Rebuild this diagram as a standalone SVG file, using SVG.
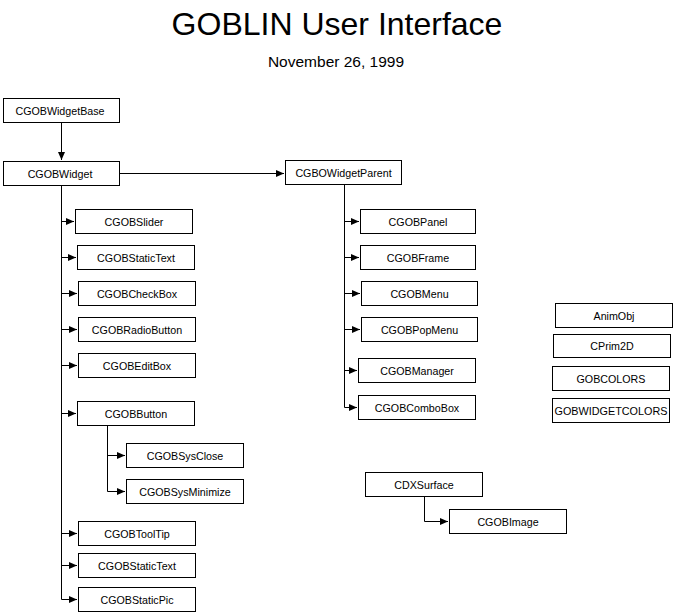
<svg xmlns="http://www.w3.org/2000/svg" width="674" height="613" viewBox="0 0 674 613">
<style>
.b{fill:#fff;stroke:#000;stroke-width:1}
.t{font-family:"Liberation Sans",Arial,sans-serif;font-size:10.7px;text-anchor:middle;fill:#000}
.c{fill:none;stroke:#000;stroke-width:1}
</style>
<defs>
<marker id="a" markerUnits="userSpaceOnUse" markerWidth="9" markerHeight="8" refX="8" refY="3.5" orient="auto">
<path d="M0,0 L8,3.5 L0,7 z" fill="#000"/>
</marker>
</defs>
<rect width="674" height="613" fill="#fff"/>
<text x="337" y="35" style="font-family:'Liberation Sans',Arial,sans-serif;font-size:32px;text-anchor:middle">GOBLIN User Interface</text>
<text x="336" y="67" style="font-family:'Liberation Sans',Arial,sans-serif;font-size:15.5px;text-anchor:middle">November 26, 1999</text>
<g id="connectors">
<path class="c" d="M61.5,122 V160" marker-end="url(#a)"/>
<path class="c" d="M119,173.5 H284" marker-end="url(#a)"/>
<path class="c" d="M61.5,185 V599.5"/>
<path class="c" d="M61.5,221.5 H74" marker-end="url(#a)"/>
<path class="c" d="M61.5,257.5 H76" marker-end="url(#a)"/>
<path class="c" d="M61.5,293.5 H77" marker-end="url(#a)"/>
<path class="c" d="M61.5,329.5 H77" marker-end="url(#a)"/>
<path class="c" d="M61.5,365.5 H77" marker-end="url(#a)"/>
<path class="c" d="M61.5,413.5 H76" marker-end="url(#a)"/>
<path class="c" d="M61.5,533.5 H77" marker-end="url(#a)"/>
<path class="c" d="M61.5,565.5 H77" marker-end="url(#a)"/>
<path class="c" d="M61.5,599.5 H77" marker-end="url(#a)"/>
<path class="c" d="M107.5,425 V491.5"/>
<path class="c" d="M107.5,455.5 H125" marker-end="url(#a)"/>
<path class="c" d="M107.5,491.5 H125" marker-end="url(#a)"/>
<path class="c" d="M344.5,184 V407.5"/>
<path class="c" d="M344.5,221.5 H359" marker-end="url(#a)"/>
<path class="c" d="M344.5,257.5 H359" marker-end="url(#a)"/>
<path class="c" d="M344.5,293.5 H360" marker-end="url(#a)"/>
<path class="c" d="M344.5,329.5 H360" marker-end="url(#a)"/>
<path class="c" d="M344.5,370.5 H357" marker-end="url(#a)"/>
<path class="c" d="M344.5,407.5 H357" marker-end="url(#a)"/>
<path class="c" d="M424.5,496 V521.5 H448" marker-end="url(#a)"/>
</g>
<g id="n_widgetbase"><rect class="b" x="3.5" y="98.5" width="116" height="24"/><text class="t" x="60" y="114.5">CGOBWidgetBase</text></g>
<g id="n_widget"><rect class="b" x="3.5" y="161.5" width="116" height="24"/><text class="t" x="60" y="177.5">CGOBWidget</text></g>
<g id="n_widgetparent"><rect class="b" x="285.5" y="160.5" width="116" height="24"/><text class="t" x="343.5" y="176.5">CGBOWidgetParent</text></g>
<g id="n_slider"><rect class="b" x="75.5" y="209.5" width="117" height="24"/><text class="t" x="134" y="225.5">CGOBSlider</text></g>
<g id="n_statictext"><rect class="b" x="77.5" y="245.5" width="117" height="24"/><text class="t" x="136" y="261.5">CGOBStaticText</text></g>
<g id="n_checkbox"><rect class="b" x="78.5" y="281.5" width="117" height="24"/><text class="t" x="137" y="297.5">CGOBCheckBox</text></g>
<g id="n_radiobutton"><rect class="b" x="78.5" y="317.5" width="117" height="24"/><text class="t" x="137" y="333.5">CGOBRadioButton</text></g>
<g id="n_editbox"><rect class="b" x="78.5" y="353.5" width="117" height="24"/><text class="t" x="137" y="369.5">CGOBEditBox</text></g>
<g id="n_button"><rect class="b" x="77.5" y="401.5" width="117" height="24"/><text class="t" x="136" y="417.5">CGOBButton</text></g>
<g id="n_sysclose"><rect class="b" x="126.5" y="443.5" width="117" height="24"/><text class="t" x="185" y="459.5">CGOBSysClose</text></g>
<g id="n_sysminimize"><rect class="b" x="126.5" y="479.5" width="117" height="24"/><text class="t" x="185" y="495.5">CGOBSysMinimize</text></g>
<g id="n_tooltip"><rect class="b" x="78.5" y="521.5" width="117" height="24"/><text class="t" x="137" y="537.5">CGOBToolTip</text></g>
<g id="n_statictext2"><rect class="b" x="78.5" y="553.5" width="117" height="24"/><text class="t" x="137" y="569.5">CGOBStaticText</text></g>
<g id="n_staticpic"><rect class="b" x="78.5" y="587.5" width="117" height="24"/><text class="t" x="137" y="603.5">CGOBStaticPic</text></g>
<g id="n_panel"><rect class="b" x="360.5" y="209.5" width="115" height="24"/><text class="t" x="418" y="225.5">CGOBPanel</text></g>
<g id="n_frame"><rect class="b" x="360.5" y="245.5" width="115" height="24"/><text class="t" x="418" y="261.5">CGOBFrame</text></g>
<g id="n_menu"><rect class="b" x="361.5" y="281.5" width="116" height="24"/><text class="t" x="419.5" y="297.5">CGOBMenu</text></g>
<g id="n_popmenu"><rect class="b" x="361.5" y="317.5" width="116" height="24"/><text class="t" x="419.5" y="333.5">CGOBPopMenu</text></g>
<g id="n_manager"><rect class="b" x="358.5" y="358.5" width="117" height="24"/><text class="t" x="417" y="374.5">CGOBManager</text></g>
<g id="n_combobox"><rect class="b" x="358.5" y="395.5" width="117" height="24"/><text class="t" x="417" y="411.5">CGOBComboBox</text></g>
<g id="n_animobj"><rect class="b" x="555.5" y="303.5" width="117" height="24"/><text class="t" x="614" y="319.5">AnimObj</text></g>
<g id="n_cprim2d"><rect class="b" x="553.5" y="334.5" width="117" height="23"/><text class="t" x="612" y="350">CPrim2D</text></g>
<g id="n_gobcolors"><rect class="b" x="552.5" y="366.5" width="117" height="24"/><text class="t" x="611" y="382.5">GOBCOLORS</text></g>
<g id="n_gobwidgetcolors"><rect class="b" x="552.5" y="398.5" width="117" height="24"/><text class="t" x="611" y="414.5" textLength="113" lengthAdjust="spacingAndGlyphs">GOBWIDGETCOLORS</text></g>
<g id="n_cdxsurface"><rect class="b" x="365.5" y="472.5" width="117" height="24"/><text class="t" x="424" y="488.5">CDXSurface</text></g>
<g id="n_cgobimage"><rect class="b" x="449.5" y="509.5" width="117" height="24"/><text class="t" x="508" y="525.5">CGOBImage</text></g>
</svg>
